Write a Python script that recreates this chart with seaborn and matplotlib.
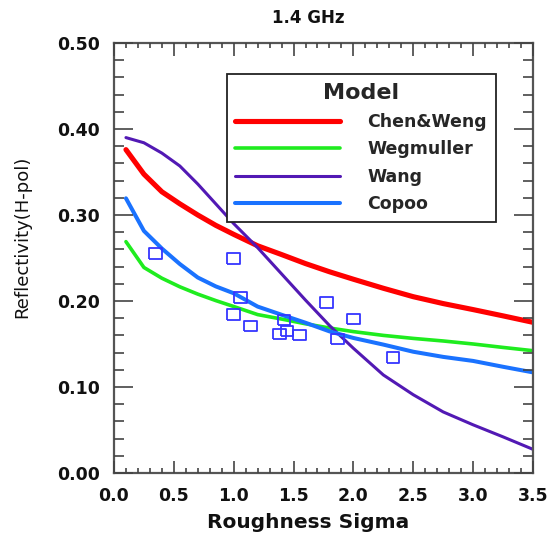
import numpy as np
import pandas as pd
import seaborn as sns
import matplotlib
matplotlib.use("Agg")
import matplotlib.pyplot as plt
from matplotlib.ticker import MultipleLocator, AutoMinorLocator, StrMethodFormatter

# Roughness sigma sample positions for the model curves
sigma = [0.1, 0.25, 0.4, 0.55, 0.7, 0.85, 1.0, 1.2, 1.4, 1.6, 1.8,
         2.0, 2.25, 2.5, 2.75, 3.0, 3.25, 3.5]

# Modelled H-pol reflectivity at 1.4 GHz
chen_weng = [0.376, 0.3475, 0.327, 0.313, 0.300, 0.288, 0.2775, 0.2642,
             0.254, 0.2435, 0.234, 0.2253, 0.2148, 0.205, 0.197, 0.190,
             0.1827, 0.1752]
wegmuller = [0.269, 0.239, 0.2265, 0.2165, 0.208, 0.2005, 0.1936, 0.1842,
             0.179, 0.1735, 0.1686, 0.1644, 0.160, 0.1565, 0.1535, 0.150,
             0.146, 0.1422]
wang = [0.390, 0.384, 0.372, 0.357, 0.336, 0.313, 0.290, 0.262, 0.2315,
        0.201, 0.1715, 0.145, 0.114, 0.091, 0.071, 0.056, 0.042, 0.0275]
copoo = [0.3194, 0.2815, 0.261, 0.243, 0.2273, 0.217, 0.209, 0.1935,
         0.184, 0.1747, 0.1647, 0.157, 0.1493, 0.141, 0.135, 0.1303,
         0.1235, 0.117]

# Observed reflectivity
obs_sigma = [0.35, 1.0, 1.055, 1.0, 1.14, 1.42, 1.38, 1.445, 1.55, 1.775,
             1.87, 2.0, 2.33]
obs_refl = [0.2555, 0.2496, 0.204, 0.1845, 0.171, 0.178, 0.1615, 0.165,
            0.1605, 0.198, 0.1558, 0.179, 0.134]

models = ["Chen&Weng", "Wegmuller", "Wang", "Copoo"]
series = [chen_weng, wegmuller, wang, copoo]
colors = {"Chen&Weng": "#ff0000", "Wegmuller": "#1fec1f",
          "Wang": "#5219b4", "Copoo": "#1a72ff"}
widths = {"Chen&Weng": 3.7, "Wegmuller": 2.6, "Wang": 2.2, "Copoo": 2.9}

df = pd.DataFrame({
    "sigma": np.tile(sigma, len(models)),
    "refl": np.concatenate(series),
    "model": np.repeat(models, len(sigma)),
})
obs = pd.DataFrame({"sigma": obs_sigma, "refl": obs_refl})

sns.set_theme(style="ticks", rc={
    "xtick.direction": "in", "ytick.direction": "in",
    "xtick.top": True, "xtick.bottom": True,
    "ytick.left": True, "ytick.right": True,
    "xtick.minor.visible": True, "ytick.minor.visible": True,
    "xtick.major.size": 9, "xtick.minor.size": 3.6,
    "ytick.major.size": 13.5, "ytick.minor.size": 7,
    "xtick.major.width": 1.2, "xtick.minor.width": 1.2,
    "ytick.major.width": 1.2, "ytick.minor.width": 1.2,
    "xtick.color": "#444444", "ytick.color": "#444444",
    "xtick.labelcolor": "#111111", "ytick.labelcolor": "#111111",
    "xtick.major.pad": 10, "ytick.major.pad": 10,
    "xtick.labelsize": 12.5, "ytick.labelsize": 12.5,
    "axes.edgecolor": "#555555", "axes.linewidth": 1.6,
})
plt.rcParams["font.family"] = ["DejaVu Sans"]
plt.rcParams["font.weight"] = "bold"

fig = plt.figure(figsize=(5.48, 5.33), dpi=100)
ax = fig.add_axes([0.208, 0.1126, 0.7646, 0.8067])

for m in models:
    sns.lineplot(data=df[df["model"] == m], x="sigma", y="refl",
                 color=colors[m], lw=widths[m], ax=ax, label=m,
                 estimator=None, sort=False, solid_capstyle="round",
                 solid_joinstyle="round", legend=False)

rect = [(-1.2, -1.0), (1.2, -1.0), (1.2, 1.0), (-1.2, 1.0), (-1.2, -1.0)]
sns.scatterplot(data=obs, x="sigma", y="refl", marker=rect, s=85,
                facecolor="none", edgecolor="#3535ff", linewidth=1.3,
                ax=ax, zorder=5)

ax.set_xlabel("")
ax.set_ylabel("")
fig.text(308 / 548, 1 - 522 / 533, "Roughness Sigma", ha="center",
         va="center", fontsize=14.5, fontweight="bold", color="#111111")
fig.text(22 / 548, 1 - 237 / 533, "Reflectivity(H-pol)", ha="center",
         va="center", rotation=90, fontsize=13, fontweight="normal",
         color="#111111")
fig.text(308 / 548, 1 - 18 / 533, "1.4 GHz", ha="center", va="center",
         fontsize=12, fontweight="bold", color="#111111")

handles = ax.get_lines()[:4]
leg = ax.legend(handles, models, title="Model", loc="upper left",
                bbox_to_anchor=(0.269, 0.927), borderaxespad=0,
                handlelength=6.0, handletextpad=1.6, labelspacing=0.55,
                borderpad=0.5, frameon=True, fancybox=False,
                prop={"size": 12.5, "weight": "bold"})
leg.get_title().set_fontsize(16)
leg.get_title().set_fontweight("bold")
frame = leg.get_frame()
frame.set_edgecolor("#222222")
frame.set_linewidth(1.3)
frame.set_facecolor("white")
frame.set_alpha(1)

# Axis range, tick spacing and inward ticks on every side
ax.set_xlim(0, 3.5)
ax.set_ylim(0, 0.5)
ax.xaxis.set_major_locator(MultipleLocator(0.5))
ax.xaxis.set_minor_locator(AutoMinorLocator(5))
ax.yaxis.set_major_locator(MultipleLocator(0.1))
ax.yaxis.set_minor_locator(AutoMinorLocator(5))
ax.xaxis.set_major_formatter(StrMethodFormatter("{x:.1f}"))
ax.yaxis.set_major_formatter(StrMethodFormatter("{x:.2f}"))
ax.tick_params(axis="both", which="both", direction="in", bottom=True,
               top=True, left=True, right=True, color="#444444")
for axis in (ax.xaxis, ax.yaxis):
    axis.set_ticks_position("both")
    axis.set_zorder(6)
for sp in ax.spines.values():
    sp.set_visible(True)

fig.savefig("out.png", dpi=100)
